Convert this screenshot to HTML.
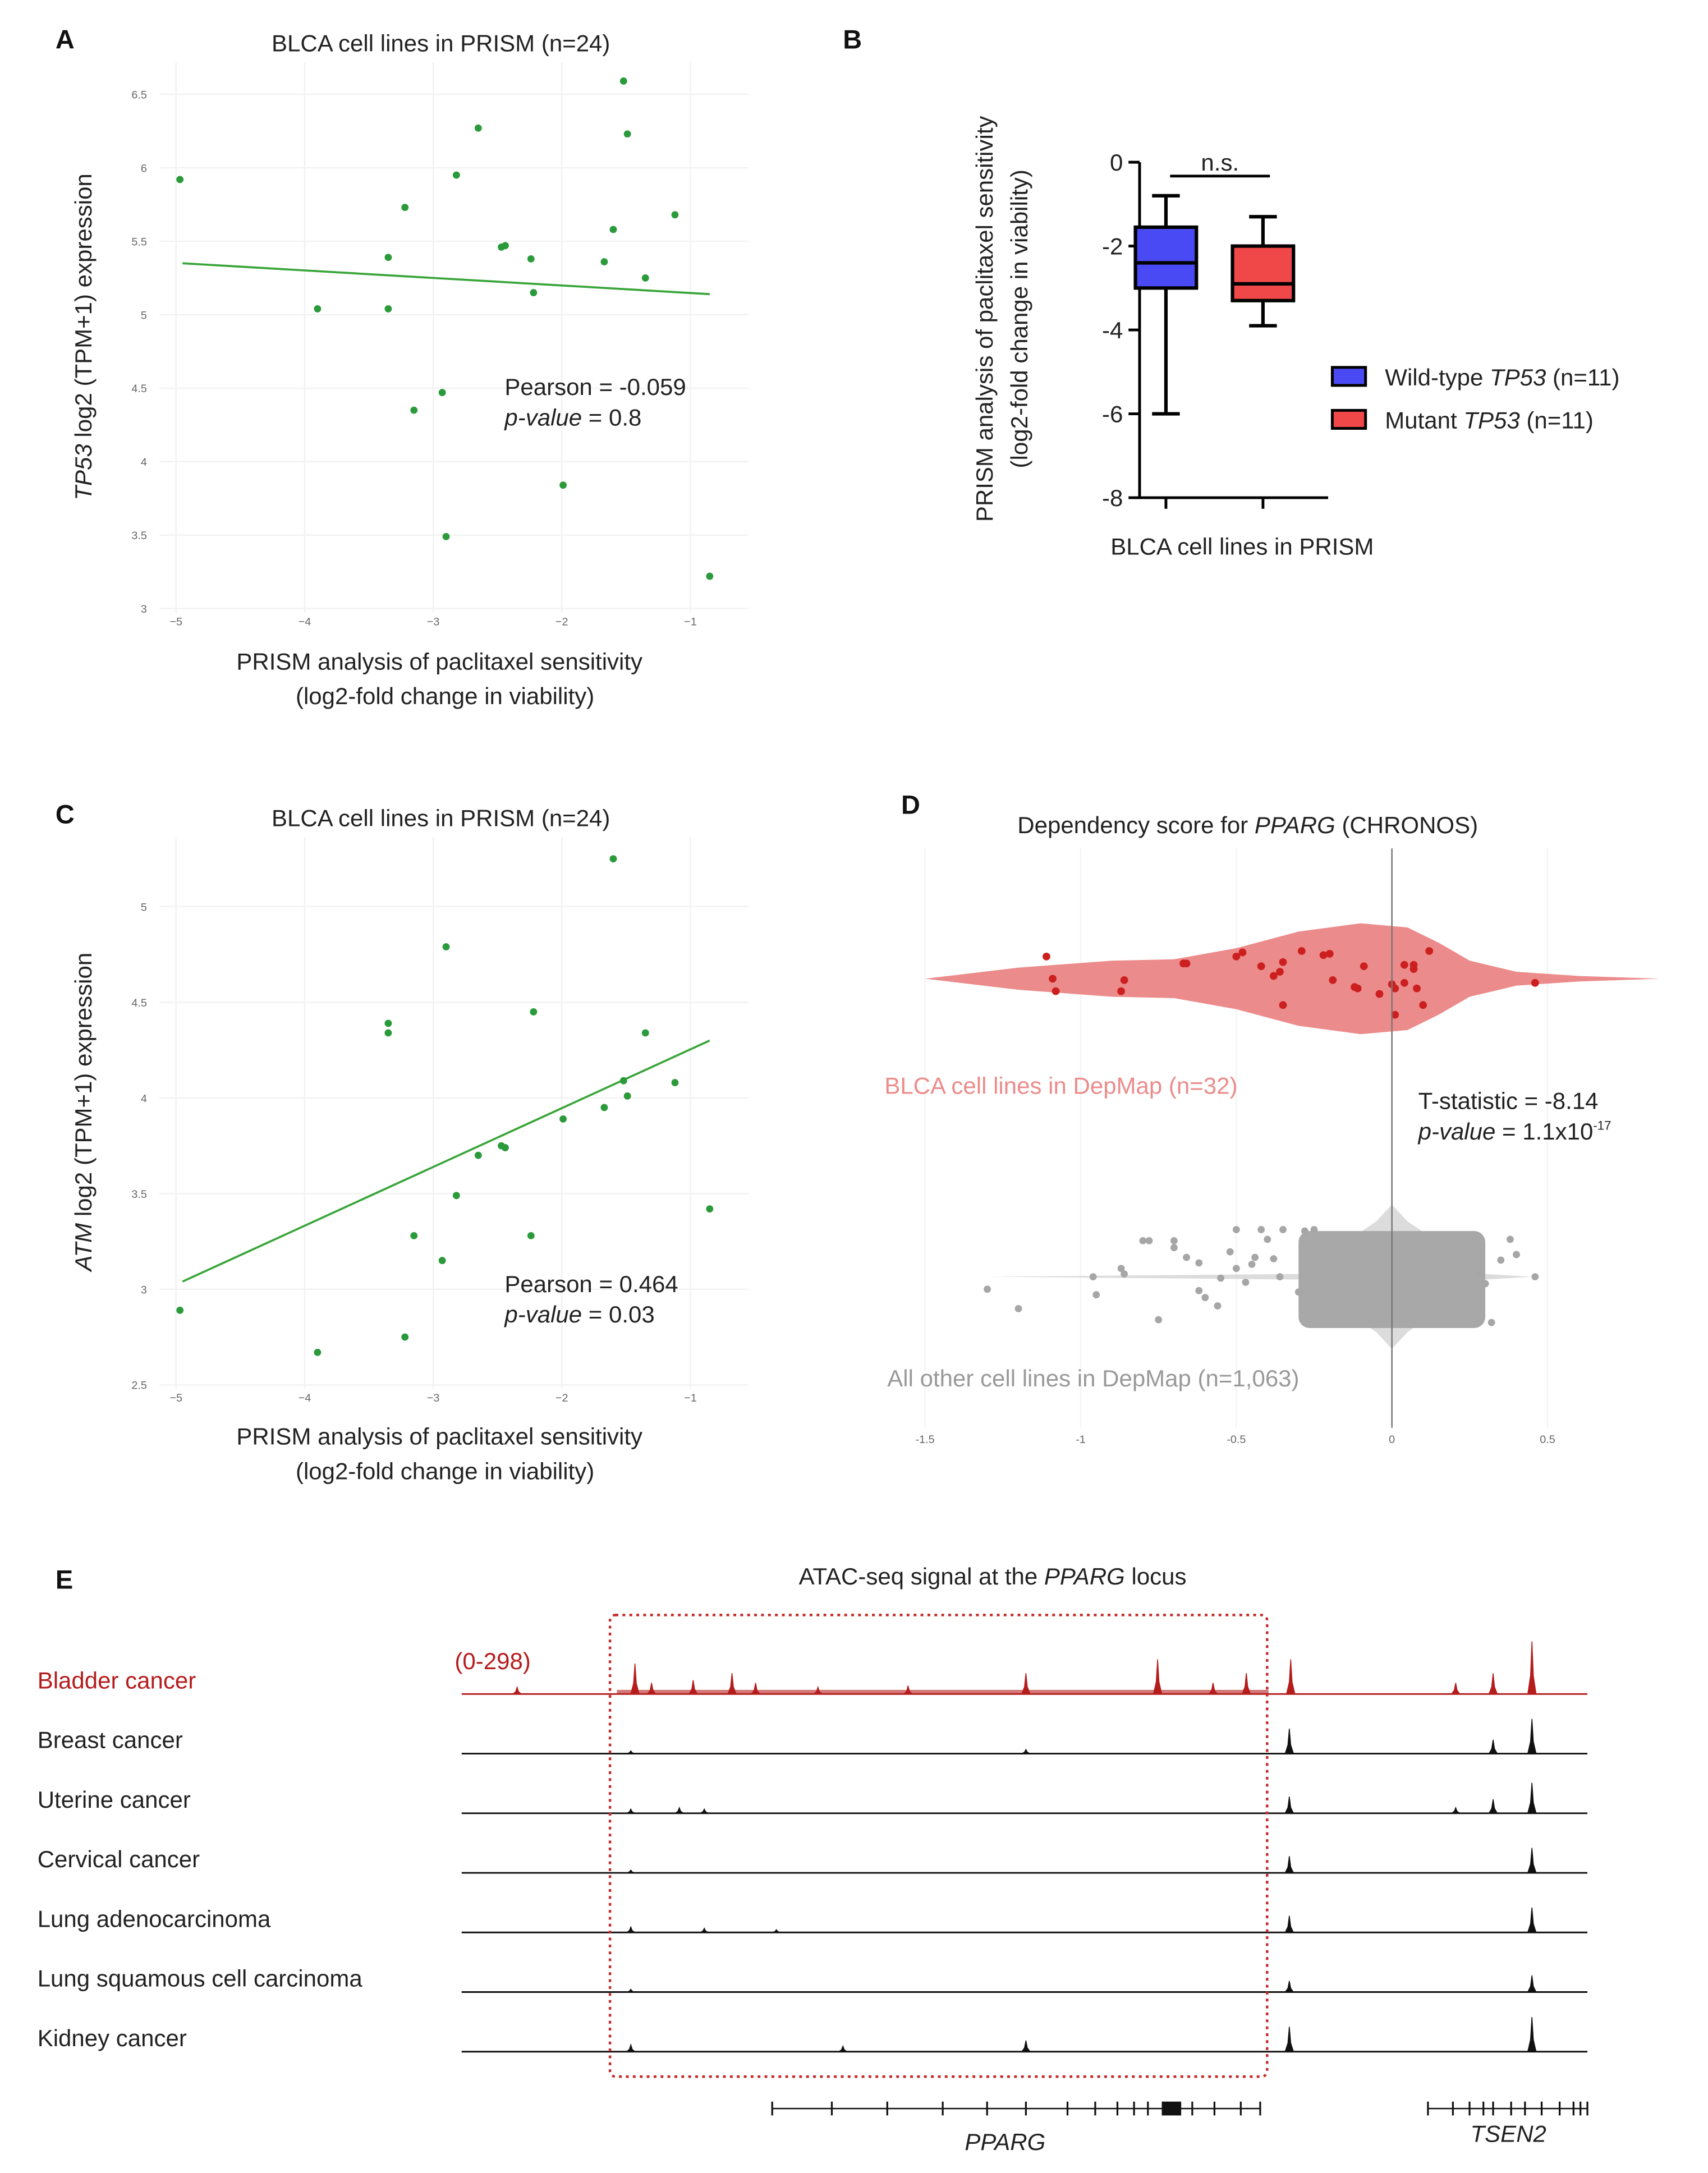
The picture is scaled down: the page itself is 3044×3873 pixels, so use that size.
<!DOCTYPE html>
<html><head><meta charset="utf-8"><style>
html,body{margin:0;padding:0;background:#fff}
svg{display:block}
text{font-family:"Liberation Sans",Arial,sans-serif}
.tk{font-size:8px;fill:#666}
.lb{font-size:17px;fill:#222}
.pl{font-size:19px;font-weight:bold;fill:#111}
</style></head><body>
<svg id="fig" width="3044" height="3873" viewBox="0 0 1232 1567.5" xmlns="http://www.w3.org/2000/svg">
<g id="gA"></g>
<g id="gB"></g>
<g id="gC"></g>
<g id="gD"></g>
<g id="gE"></g>
</svg>
<script>
const NS="http://www.w3.org/2000/svg";
// ---- data ----
const sensA=[-4.97,-3.9,-3.35,-3.35,-3.22,-3.15,-2.93,-2.9,-2.82,-2.65,-2.47,-2.44,-2.24,-2.22,-1.99,-1.67,-1.6,-1.52,-1.49,-1.35,-1.12,-0.85];
const tp53Expr=[5.92,5.04,5.39,5.04,5.73,4.35,4.47,3.49,5.95,6.27,5.46,5.47,5.38,5.15,3.84,5.36,5.58,6.59,6.23,5.25,5.68,3.22];
const atmExpr=[2.89,2.67,4.39,4.34,2.75,3.28,3.15,4.79,3.49,3.70,3.75,3.74,3.28,4.45,3.89,3.95,5.25,4.09,4.01,4.34,4.08,3.42];
const trendA=[[-4.95,5.35],[-0.85,5.14]];
const trendC=[[-4.95,3.04],[-0.85,4.30]];
const xTicks=[-5,-4,-3,-2,-1];
const yTicksA=[3,3.5,4,4.5,5,5.5,6,6.5];
const yTicksC=[2.5,3,3.5,4,4.5,5];
const boxGroups=["Wild-type","Mutant"];
const boxStats=[[-6.0,-3.0,-2.4,-1.55,-0.8],[-3.9,-3.3,-2.9,-2.0,-1.3]];
const boxTicks=[0,-2,-4,-6,-8];
const blcaDep=[-1.11,-1.09,-1.08,-0.87,-0.86,-0.67,-0.66,-0.5,-0.48,-0.42,-0.38,-0.36,-0.35,-0.35,-0.29,-0.22,-0.2,-0.19,-0.12,-0.11,-0.09,-0.04,0.0,0.01,0.01,0.04,0.04,0.07,0.07,0.08,0.1,0.12,0.46];
const blcaJit=[-28,-12,-3,-3,-11,-23,-23,-28,-31,-21,-14,-17,-24,7,-32,-29,-30,-11,-6,-5,-21,-1,-8,14,-5,-9,-22,-22,-19,-5,7,-32,-9];
const otherDep=[-1.3,-1.2,-0.96,-0.95,-0.87,-0.86,-0.8,-0.78,-0.75,-0.7,-0.7,-0.66,-0.62,-0.62,-0.6,-0.56,-0.55,-0.52,-0.5,-0.5,-0.47,-0.45,-0.44,-0.42,-0.4,-0.38,-0.36,-0.35,-0.3,-0.28,-0.25,0.28,0.3,0.32,0.35,0.38,0.4,0.46];
const otherJit=[9,23,0,13,-6,-2,-26,-26,31,-21,-26,-14,-10,10,15,21,1,-18,-34,-6,4,-9,-14,-34,-27,-13,0,-34,11,-33,-34,-2,5,33,-12,-27,-16,0];
const coreRange=[-0.3,0.3];
const depTicks=[-1.5,-1,-0.5,0,0.5];
const violinX=[-1.5,-1.2,-0.9,-0.7,-0.5,-0.3,-0.1,0.05,0.15,0.25,0.4,0.6,0.86];
const violinW=[0,8,13,14,22,34,40,37,26,13,5,2,0];
const tracks=["Bladder cancer","Breast cancer","Uterine cancer","Cervical cancer","Lung adenocarcinoma","Lung squamous cell carcinoma","Kidney cancer"];
const peakPos=[[373,458,470,500,528,545,590,655,740,835,875,899,931,1050,1077,1105],
[455,740,930,1077,1105],[455,490,508,930,1050,1077,1105],[455,930,1105],[455,508,560,930,1105],[455,930,1105],[455,608,740,930,1105]];
const peakH=[[5,22,8,10,15,8,5,6,15,25,8,15,25,8,15,38],
[2,3,18,10,25],[3,4,3,12,4,10,22],[2,12,18],[4,3,2,12,18],[2,8,12],[5,4,8,18,25]];
// ---- helpers ----
function el(parent,tag,attrs,txt){const e=document.createElementNS(NS,tag);for(const k in attrs)e.setAttribute(k,attrs[k]);if(txt!==undefined)e.textContent=txt;parent.appendChild(e);return e;}
function tx(parent,x,y,html,cls,extra,fill){const e=el(parent,"text",Object.assign({x:x,y:y,class:cls||"lb"},extra||{}));e.innerHTML=html;if(fill)e.style.fill=fill;return e;}

// ---- scatter panels ----
function scatter(g,letter,oy,yTicks,y0,ypx,ys,trend,yl,stat1,stat2){
  const sx=v=>127+(v+5)*92.75;
  const sy=v=>y0-(v-yTicks[0])*ypx;
  let t=tx(g,40,oy+35,letter,"pl");
  t=tx(g,318,oy+37,"BLCA cell lines in PRISM (n=24)","lb",{"text-anchor":"middle"});
  
  xTicks.forEach(v=>{let l=el(g,"line",{x1:sx(v),x2:sx(v),y1:oy+45,y2:y0+3,stroke:"#f2f2f2"});
    
    let k=tx(g,sx(v),y0+12,"−"+(-v),"tk",{"text-anchor":"middle"});});
  yTicks.forEach(v=>{let l=el(g,"line",{x1:115,x2:540,y1:sy(v),y2:sy(v),stroke:"#f2f2f2"});
    
    let k=tx(g,106,sy(v)+3,String(v),"tk",{"text-anchor":"end"});});
  let tl=el(g,"line",{x1:sx(trend[0][0]),y1:sy(trend[0][1]),x2:sx(trend[1][0]),y2:sy(trend[1][1]),stroke:"#3aa53a","stroke-width":1.5});
  
  sensA.forEach((v,i)=>{let c=el(g,"circle",{cx:sx(v),cy:sy(ys[i]),r:2.6,fill:"#2a9a3a"});
    });
  t=tx(g,364,stat1.y,stat1.t,"lb",{"font-size":"16"});
  t=tx(g,364,stat1.y+22,"<tspan font-style='italic'>p-value</tspan> = "+stat2,"lb",{"font-size":"16"});
  t=tx(g,317,oy+483,"PRISM analysis of paclitaxel sensitivity","lb",{"text-anchor":"middle"});
  t=tx(g,321,oy+508,"(log2-fold change in viability)","lb",{"text-anchor":"middle"});
  t=tx(g,0,0,yl,"lb",{"text-anchor":"middle",transform:`translate(66,${oy+243}) rotate(-90)`});
}
scatter(document.getElementById("gA"),"A",0,yTicksA,439,106,tp53Expr,trendA,"<tspan font-style='italic'>TP53</tspan> log2 (TPM+1) expression",{y:285,t:"Pearson = -0.059"},"0.8");
scatter(document.getElementById("gC"),"C",559,yTicksC,999,138,atmExpr,trendC,"<tspan font-style='italic'>ATM</tspan> log2 (TPM+1) expression",{y:932,t:"Pearson = 0.464"},"0.03");

// ---- panel B ----
(function(){const g=document.getElementById("gB");
  const sy=v=>117-v*30.25; const cx=[841,911];
  let t=tx(g,608,35,"B","pl");
  let a=el(g,"path",{d:"M822,117 V359 H958",stroke:"#000","stroke-width":2,fill:"none"});
  boxTicks.forEach(v=>{let l=el(g,"line",{x1:814,x2:822,y1:sy(v),y2:sy(v),stroke:"#000","stroke-width":2});
    let k=tx(g,810,sy(v)+6,v===0?"0":"-"+(-v),"lb",{"text-anchor":"end","font-size":"16"});});
  cx.forEach(x=>{let l=el(g,"line",{x1:x,x2:x,y1:359,y2:367,stroke:"#000","stroke-width":2});});
  const cols=["#4a4af5","#f04848"];
  boxStats.forEach((s,i)=>{const x=cx[i],w=22;
    let wl=el(g,"path",{d:`M${x},${sy(s[0])}V${sy(s[1])}M${x},${sy(s[3])}V${sy(s[4])}M${x-10},${sy(s[0])}H${x+10}M${x-10},${sy(s[4])}H${x+10}`,stroke:"#000","stroke-width":2.5,fill:"none"});
    
    let b=el(g,"rect",{x:x-w,y:sy(s[3]),width:2*w,height:sy(s[1])-sy(s[3]),fill:cols[i],stroke:"#000","stroke-width":2.5});
    
    let m=el(g,"line",{x1:x-w,x2:x+w,y1:sy(s[2]),y2:sy(s[2]),stroke:"#000","stroke-width":2.5});});
  let br=el(g,"line",{x1:844,x2:916,y1:127,y2:127,stroke:"#000","stroke-width":2});
  t=tx(g,880,123,"n.s.","lb",{"text-anchor":"middle","font-size":"16"});
  t=tx(g,0,0,"PRISM analysis of paclitaxel sensitivity","lb",{"text-anchor":"middle","font-size":"16",transform:"translate(716,230) rotate(-90)"});
  t=tx(g,0,0,"(log2-fold change in viability)","lb",{"text-anchor":"middle","font-size":"16",transform:"translate(741,230) rotate(-90)"});
  t=tx(g,896,400,"BLCA cell lines in PRISM","lb",{"text-anchor":"middle"});
  const leg=[["Wild-type <tspan font-style='italic'>TP53</tspan> (n=11)",272],["Mutant <tspan font-style='italic'>TP53</tspan> (n=11)",303]];
  leg.forEach((L,i)=>{let r=el(g,"rect",{x:961,y:L[1]-7,width:24,height:13,fill:cols[i],stroke:"#000","stroke-width":2});
    let k=tx(g,999,L[1]+6,L[0],"lb");});
})();

// ---- panel D ----
(function(){const g=document.getElementById("gD");
  const sx=v=>1004+v*224.5; const yv1=706,yv2=921;
  let t=tx(g,650,587,"D","pl");
  t=tx(g,900,601,"Dependency score for <tspan font-style='italic'>PPARG</tspan> (CHRONOS)","lb",{"text-anchor":"middle"});
  depTicks.forEach(v=>{if(v!==0){let l=el(g,"line",{x1:sx(v),x2:sx(v),y1:612,y2:1030,stroke:"#f4f4f4"});}
    let k=tx(g,sx(v),1041,String(v),"tk",{"text-anchor":"middle"});});
  let top="",bot="";violinX.forEach((v,i)=>{top+=(i?"L":"M")+sx(v)+","+(yv1-violinW[i]);});
  for(let i=violinX.length-1;i>=0;i--)bot+="L"+sx(violinX[i])+","+(yv1+violinW[i]);
  let vp=el(g,"path",{d:top+bot+"Z",fill:"#ec8b8b",stroke:"none"});
  blcaDep.forEach((v,i)=>{let c=el(g,"circle",{cx:sx(v),cy:yv1+blcaJit[i]+12,r:2.8,fill:"#cc1f1f"});});
  let gv=el(g,"path",{d:`M${sx(-1.3)},${yv2}L${sx(-0.3)},${yv2-2}L${sx(-0.05)},${yv2-40}L${sx(0)},${yv2-52}L${sx(0.05)},${yv2-40}L${sx(0.3)},${yv2-2}L${sx(0.45)},${yv2}L${sx(0.3)},${yv2+2}L${sx(0.05)},${yv2+40}L${sx(0)},${yv2+52}L${sx(-0.05)},${yv2+40}L${sx(-0.3)},${yv2+2}Z`,fill:"#dcdcdc"});
  
  let core=el(g,"rect",{x:sx(coreRange[0]),y:yv2-33,width:sx(coreRange[1])-sx(coreRange[0]),height:70,rx:8,fill:"#a8a8a8"});
  otherDep.forEach((v,i)=>{let c=el(g,"circle",{cx:sx(v),cy:yv2+otherJit[i],r:2.6,fill:"#a6a6a6"});});
  let zl=el(g,"line",{x1:1004,x2:1004,y1:612,y2:1030,stroke:"#777","stroke-width":1});
  t=tx(g,638,789,"BLCA cell lines in DepMap (n=32)","lb",{},"#ec8b8b");
  t=tx(g,640,1000,"All other cell lines in DepMap (n=1,063)","lb",{},"#999");
  t=tx(g,1023,800,"T-statistic = -8.14","lb",{"font-size":"15"});
  t=tx(g,1023,822,"<tspan font-style='italic'>p-value</tspan> = 1.1x10<tspan font-size='9' dy='-7'>-17</tspan>","lb",{"font-size":"15"});
})();

// ---- panel E ----
(function(){const g=document.getElementById("gE");
  let t=tx(g,40,1146,"E","pl");
  t=tx(g,716,1143,"ATAC-seq signal at the <tspan font-style='italic'>PPARG</tspan> locus","lb",{"text-anchor":"middle"});
  tracks.forEach((name,i)=>{const base=1222+i*43,col=i?"#111":"#b51c1c";
    let k=tx(g,27,base-4,name,"lb",{},i?"#222":"#b51c1c");
    let bl=el(g,"line",{x1:333,x2:1145,y1:base,y2:base,stroke:col,"stroke-width":1.2});
    let d="";peakPos[i].forEach((p,j)=>{const h=peakH[i][j];d+=`M${p-3},${base}L${p-1},${base-h*0.35}L${p},${base-h}L${p+1},${base-h*0.35}L${p+3},${base}Z`;});
    let pk=el(g,"path",{d:d,fill:col,stroke:col,"stroke-width":0.6});
    if(i===0){let n=el(g,"rect",{x:445,y:base-3,width:470,height:3,fill:col,opacity:0.6});}
  });
  t=tx(g,328,1204,"(0-298)","lb",{"font-size":"16"},"#b51c1c");
  let bx=el(g,"rect",{x:440,y:1165,width:474,height:333,rx:4,fill:"none",stroke:"#c62828","stroke-width":1.8,"stroke-dasharray":"2,3"});
  let gl=el(g,"line",{x1:557,x2:909,y1:1521,y2:1521,stroke:"#111","stroke-width":1});
  const ex=[557,600,640,680,712,740,770,790,806,818,828,860,876,895,909];
  let ed="";ex.forEach(x=>ed+=`M${x},1516V1526`);
  let e1=el(g,"path",{d:ed,stroke:"#111","stroke-width":1.3});
  let th=el(g,"rect",{x:838,y:1516,width:14,height:10,fill:"#111"});
  let gl2=el(g,"line",{x1:1030,x2:1145,y1:1521,y2:1521,stroke:"#111","stroke-width":1});
  let e2d="";[1030,1048,1060,1070,1077,1090,1100,1112,1125,1135,1140,1145].forEach(x=>e2d+=`M${x},1516V1526`);
  let e2=el(g,"path",{d:e2d,stroke:"#111","stroke-width":1.3});
  t=tx(g,725,1551,"PPARG","lb",{"text-anchor":"middle","font-style":"italic"});
  t=tx(g,1088,1545,"TSEN2","lb",{"text-anchor":"middle","font-style":"italic"});
})();
</script>
</body></html>
